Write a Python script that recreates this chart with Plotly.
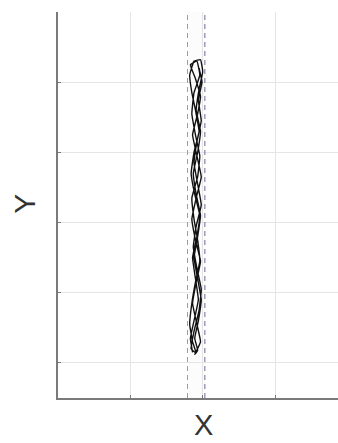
import plotly.graph_objects as go

# Trajectory legs (data units)
leg1_y = [0.15, 0.35, 0.6, 0.9, 1.2, 1.5, 1.8, 2.1, 2.4, 2.7, 3.0, 3.3, 3.6, 3.85, 4.1, 4.3]
leg1_x = [0.86, 0.83, 0.88, 0.94, 0.90, 0.86, 0.92, 0.96, 0.89, 0.84, 0.88, 0.95, 0.90, 0.85, 0.82, 0.88]
leg2_y = [4.32, 4.15, 3.9, 3.6, 3.3, 3.0, 2.7, 2.4, 2.1, 1.8, 1.5, 1.2, 0.9, 0.6, 0.35, 0.18]
leg2_x = [0.97, 1.00, 0.95, 0.91, 0.97, 0.93, 0.87, 0.91, 0.97, 0.93, 0.88, 0.93, 0.98, 0.94, 0.89, 0.93]
leg3_y = [0.12, 0.3, 0.55, 0.85, 1.15, 1.45, 1.75, 2.05, 2.35, 2.65, 2.95, 3.25, 3.55, 3.8, 4.05, 4.25]
leg3_x = [0.89, 0.97, 0.92, 0.86, 0.91, 0.97, 0.90, 0.85, 0.91, 0.98, 0.92, 0.86, 0.93, 0.97, 0.90, 0.83]
leg4_y = [4.3, 4.1, 3.85, 3.55, 3.25, 2.95, 2.65, 2.35, 2.05, 1.75, 1.45, 1.15, 0.85, 0.55, 0.3, 0.14]
leg4_x = [0.92, 0.96, 0.88, 0.85, 0.90, 0.96, 0.93, 0.85, 0.88, 0.93, 0.96, 0.90, 0.85, 0.82, 0.86, 0.91]
leg5_y = [0.2, 0.45, 0.75, 1.05, 1.35, 1.65, 1.95, 2.25, 2.55, 2.85, 3.15, 3.45, 3.75, 4.0, 4.2]
leg5_x = [0.84, 0.88, 0.95, 0.98, 0.92, 0.87, 0.91, 0.98, 0.93, 0.88, 0.92, 0.98, 0.94, 0.99, 0.95]

# Boundary lines
left_bound = 0.79
right_bound = 1.03

x_ticks = [0, 1, 2, 3]
y_ticks = [0, 1, 2, 3, 4, 5]

path_x = leg1_x + leg2_x + leg3_x + leg4_x + leg5_x
path_y = leg1_y + leg2_y + leg3_y + leg4_y + leg5_y

fig = go.Figure()
fig.add_trace(go.Scatter(x=path_x, y=path_y, mode="lines",
                         line=dict(color="#111111", width=1.4, shape="spline", smoothing=0.3),
                         showlegend=False, hoverinfo="skip"))

fig.add_shape(type="rect", xref="x", yref="paper", x0=left_bound, x1=right_bound, y0=0, y1=1,
              fillcolor="rgba(0,0,0,0.012)", line=dict(width=0), layer="below")
fig.add_shape(type="line", xref="x", yref="paper", x0=left_bound, x1=left_bound, y0=0, y1=1,
              line=dict(color="#6fb0b8", width=1, dash="5px,4px"))
fig.add_shape(type="line", xref="x", yref="paper", x0=right_bound, x1=right_bound, y0=0, y1=1,
              line=dict(color="#6d6a9c", width=1, dash="5px,4px"))

fig.update_layout(
    width=338, height=443,
    margin=dict(l=58, r=0, t=12, b=45),
    paper_bgcolor="white", plot_bgcolor="white",
    xaxis=dict(range=[-1, 2.87], tickvals=x_ticks, showticklabels=False,
               showgrid=True, gridcolor="#e4e6e6", gridwidth=1, zeroline=False,
               showline=True, linecolor="#7a7a7a", linewidth=2,
               ticks="inside", ticklen=3, tickcolor="#7a7a7a"),
    yaxis=dict(range=[-0.5, 5.0], tickvals=y_ticks, showticklabels=False,
               showgrid=True, gridcolor="#e4e6e6", gridwidth=1, zeroline=False,
               showline=True, linecolor="#7a7a7a", linewidth=2,
               ticks="inside", ticklen=3, tickcolor="#7a7a7a"),
    annotations=[
        dict(text="Y", xref="paper", yref="paper", x=-(58 - 25) / 280, y=0.503,
             xanchor="center", yanchor="middle", textangle=-90, showarrow=False,
             font=dict(family="Liberation Sans", size=30, color="#333333")),
        dict(text="X", xref="paper", yref="paper", x=(203 - 58) / 280, y=-(425 - 398) / 386,
             xanchor="center", yanchor="middle", showarrow=False,
             font=dict(family="Liberation Sans", size=29, color="#333333")),
    ],
)

# Remove the page's default body margin so the figure fills the window exactly.
fig.write_html("out.html",
               config={"displayModeBar": False},
               post_script="document.body.style.margin='0';document.body.style.overflow='hidden';")
